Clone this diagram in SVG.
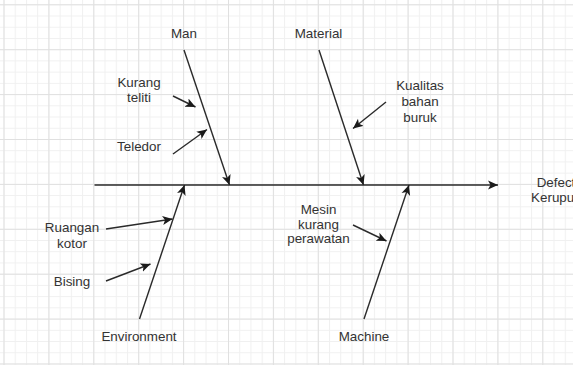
<svg xmlns="http://www.w3.org/2000/svg" width="573" height="365" viewBox="0 0 573 365">
<defs>
<pattern id="minor" patternUnits="userSpaceOnUse" x="3.5" y="4.3" width="11.225" height="11.225">
<path d="M0 0.5H11.225M0.5 0V11.225" fill="none" stroke="#f0f0f0" stroke-width="1"/>
</pattern>
<pattern id="major" patternUnits="userSpaceOnUse" x="3.5" y="4.3" width="44.9" height="44.9">
<path d="M0 0.5H44.9M0.5 0V44.9" fill="none" stroke="#e0e0e0" stroke-width="1"/>
</pattern>
<marker id="ah" markerUnits="userSpaceOnUse" markerWidth="12" markerHeight="10" refX="10" refY="5" orient="auto">
<path d="M0 0.5L10 5L0 9.5L2.5 5Z" fill="#1a1a1a"/>
</marker>
</defs>
<style>
.ln{stroke:#2a2a2a;stroke-width:1.4;fill:none}
.bone{stroke:#2a2a2a;stroke-width:1.4;fill:none;marker-end:url(#ah)}
text{font-family:"Liberation Sans",Arial,sans-serif;font-size:13.4px;fill:#333;text-anchor:middle}
</style>
<rect width="573" height="365" fill="#ffffff"/>
<rect width="573" height="365" fill="url(#minor)"/>
<rect width="573" height="365" fill="url(#major)"/>
<g id="connectors">
<line class="bone" x1="94.5" y1="185" x2="498" y2="185"/>
<line class="bone" x1="184" y1="50" x2="229.5" y2="185"/>
<line class="bone" x1="319" y1="50" x2="363.5" y2="185"/>
<line class="bone" x1="139.5" y1="319" x2="184.5" y2="185"/>
<line class="bone" x1="364" y1="319" x2="409" y2="185"/>
<line class="bone" x1="173" y1="96" x2="195.5" y2="107"/>
<line class="bone" x1="173" y1="154" x2="207" y2="129.5"/>
<line class="bone" x1="386" y1="102" x2="353" y2="128.5"/>
<line class="bone" x1="106" y1="229" x2="172.5" y2="219"/>
<line class="bone" x1="106" y1="281" x2="150.5" y2="264"/>
<line class="bone" x1="353" y1="225" x2="386.5" y2="241"/>
</g>
<g id="man"><text x="184" y="38">Man</text></g>
<g id="material"><text x="318.5" y="38">Material</text></g>
<g id="environment"><text x="139" y="341">Environment</text></g>
<g id="machine"><text x="364" y="341">Machine</text></g>
<g id="defect"><text x="556" y="187">Defect</text><text x="556" y="201.5">Kerupuk</text></g>
<g id="kurang-teliti"><text x="139" y="86.5">Kurang</text><text x="139" y="101.5">teliti</text></g>
<g id="teledor"><text x="139" y="150.5">Teledor</text></g>
<g id="kualitas"><text x="420" y="90">Kualitas</text><text x="420" y="106">bahan</text><text x="420" y="121.5">buruk</text></g>
<g id="ruangan"><text x="72" y="231.5">Ruangan</text><text x="72" y="247.5">kotor</text></g>
<g id="bising"><text x="72" y="285.5">Bising</text></g>
<g id="mesin"><text x="318.5" y="214">Mesin</text><text x="318.5" y="228.5">kurang</text><text x="318.5" y="243">perawatan</text></g>
</svg>
